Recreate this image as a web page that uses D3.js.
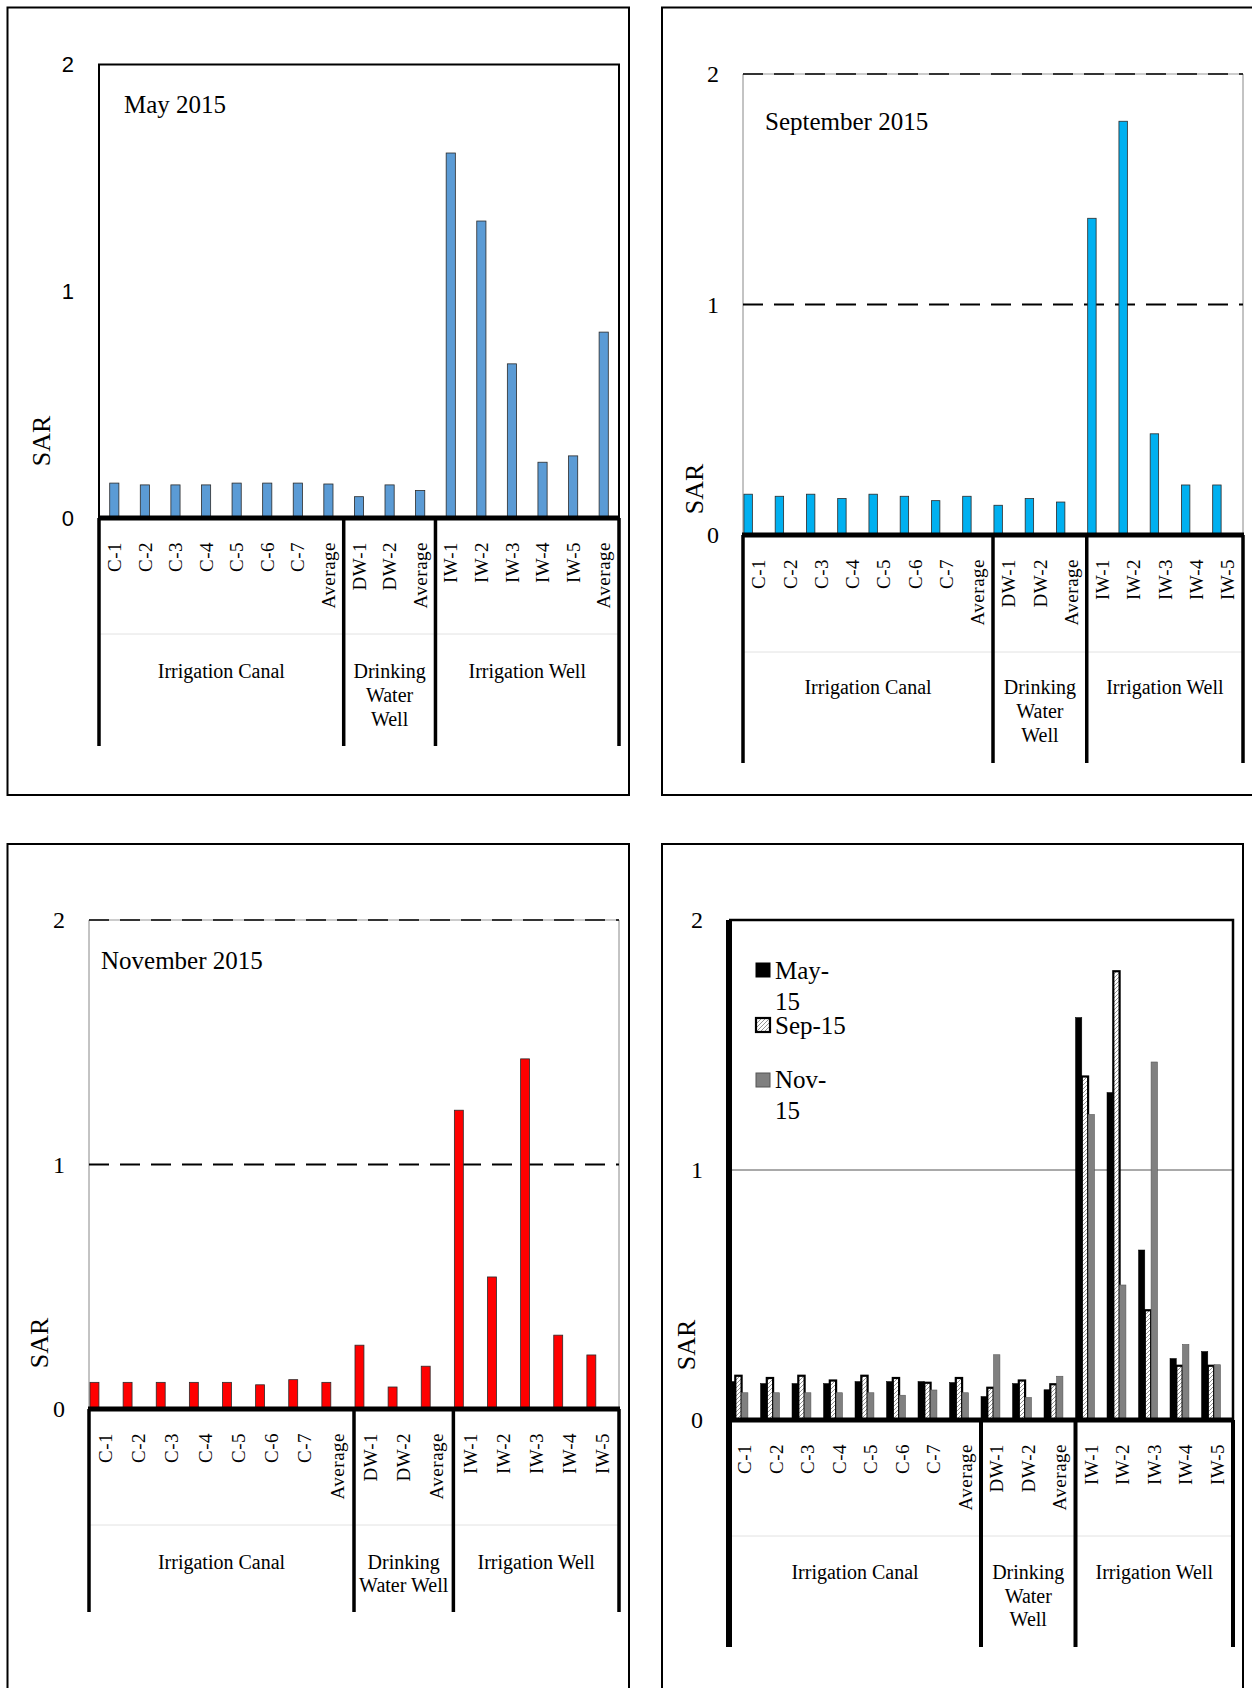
<!DOCTYPE html>
<html>
<head>
<meta charset="utf-8">
<script src="https://cdn.jsdelivr.net/npm/d3@7"></script>
<style>
  body { margin: 0; background: #fff; }
  svg { display: block; }
</style>
</head>
<body>
<svg id="chart" width="1252" height="1688"></svg>
<script>
// Sampling sites
const canalSites = ["C-1", "C-2", "C-3", "C-4", "C-5", "C-6", "C-7", "Average"];
const drinkingSites = ["DW-1", "DW-2", "Average"];
const wellSites = ["IW-1", "IW-2", "IW-3", "IW-4", "IW-5"];
const maySites = canalSites.concat(drinkingSites, wellSites, ["Average"]);
const sites = canalSites.concat(drinkingSites, wellSites);

const groupNames = ["Irrigation Canal", "Drinking Water Well", "Irrigation Well"];
const yTicks = [0, 1, 2];
const seriesNames = ["May-15", "Sep-15", "Nov-15"];

// SAR values
const sarMay = [0.154, 0.146, 0.146, 0.146, 0.154, 0.154, 0.154, 0.150,
  0.094, 0.146, 0.121, 1.61, 1.31, 0.68, 0.246, 0.274, 0.82];
const sarSep = [0.177, 0.168, 0.177, 0.158, 0.177, 0.168, 0.149, 0.168,
  0.129, 0.158, 0.143, 1.374, 1.795, 0.439, 0.217, 0.217];
const sarNov = [0.109, 0.109, 0.109, 0.109, 0.109, 0.099, 0.120, 0.109,
  0.261, 0.090, 0.175, 1.222, 0.540, 1.432, 0.302, 0.221];

const serif = "'Liberation Serif', 'Times New Roman', serif";
const sans = "'Liberation Sans', Arial, sans-serif";

const svg = d3.select("#chart");

// hatch used for the Sep-15 bars in the combined chart
const defs = svg.append("defs");
const pat = defs.append("pattern")
  .attr("id", "sepHatch")
  .attr("patternUnits", "userSpaceOnUse")
  .attr("width", 4)
  .attr("height", 4);
pat.append("rect").attr("width", 4).attr("height", 4).attr("fill", "#fff");
pat.append("path").attr("d", "M0,4 L4,0").attr("stroke", "#888").attr("stroke-width", 0.9);

function drawPanel(p) {
  const g = svg.append("g");

  // outer frame
  g.append("rect")
    .attr("x", p.frame[0])
    .attr("y", p.frame[1])
    .attr("width", p.frame[2] - p.frame[0])
    .attr("height", p.frame[3] - p.frame[1])
    .attr("fill", "none")
    .attr("stroke", "#000")
    .attr("stroke-width", 2);

  const x = d3.scaleBand().domain(d3.range(p.sites.length)).range([p.left, p.right]);
  const y = d3.scaleLinear().domain([0, 2]).range([p.zero, p.top]);
  const bw = x.bandwidth();

  // plot area border / gridlines
  if (p.style === "box") {
    g.append("path")
      .attr("d", `M${p.left},${p.zero}V${p.top}H${p.right}V${p.zero}`)
      .attr("fill", "none")
      .attr("stroke", "#000")
      .attr("stroke-width", 2);
  } else if (p.style === "dashed") {
    g.append("line")
      .attr("x1", p.left).attr("x2", p.left)
      .attr("y1", p.top).attr("y2", p.zero)
      .attr("stroke", "#888").attr("stroke-width", 1);
    g.append("line")
      .attr("x1", p.right).attr("x2", p.right)
      .attr("y1", p.top).attr("y2", p.zero)
      .attr("stroke", "#888").attr("stroke-width", 1);
    g.append("line")
      .attr("x1", p.left).attr("x2", p.right)
      .attr("y1", y(2)).attr("y2", y(2))
      .attr("stroke", "#999").attr("stroke-width", 1);
    [1, 2].forEach((v) => {
      g.append("line")
        .attr("x1", p.left).attr("x2", p.right)
        .attr("y1", y(v)).attr("y2", y(v))
        .attr("stroke", "#000")
        .attr("stroke-width", v === 1 ? 2 : 1.5)
        .attr("stroke-dasharray", "20,11");
    });
  } else {
    g.append("line")
      .attr("x1", p.left).attr("x2", p.right)
      .attr("y1", y(1)).attr("y2", y(1))
      .attr("stroke", "#555").attr("stroke-width", 1);
    g.append("path")
      .attr("d", `M${p.left},${p.top}H${p.right}V${p.zero}`)
      .attr("fill", "none")
      .attr("stroke", "#000")
      .attr("stroke-width", 2.5);
  }

  // bars
  p.series.forEach((s, k) => {
    let bx, w;
    if (p.layout === "center") {
      w = bw * 0.3;
      bx = (i) => x(i) + (bw - w) / 2;
    } else if (p.layout === "left") {
      w = bw * 0.27;
      bx = (i) => x(i) + bw * 0.03;
    } else {
      w = bw * 0.2;
      bx = (i) => x(i) + k * w;
    }
    g.append("g")
      .selectAll("rect")
      .data(s.values)
      .enter()
      .append("rect")
      .attr("x", (d, i) => bx(i))
      .attr("y", (d) => y(d))
      .attr("width", w)
      .attr("height", (d) => y(0) - y(d))
      .attr("fill", s.fill)
      .attr("stroke", s.stroke)
      .attr("stroke-width", s.strokeWidth);
  });

  // faint separator between site labels and group labels
  g.append("line")
    .attr("x1", p.left).attr("x2", p.right)
    .attr("y1", p.sepY).attr("y2", p.sepY)
    .attr("stroke", "#e2e2e2").attr("stroke-width", 1);

  // group dividers below the axis
  let start = 0;
  const bounds = [0];
  p.groupSizes.forEach((n) => {
    start += n;
    bounds.push(start);
  });
  bounds.forEach((b, j) => {
    const bxPos = b === p.sites.length ? p.right : x(b);
    const leftThick = p.style === "combined" && j === 0;
    g.append("line")
      .attr("x1", bxPos).attr("x2", bxPos)
      .attr("y1", leftThick ? p.top : p.zero)
      .attr("y2", p.catBottom)
      .attr("stroke", "#000")
      .attr("stroke-width", leftThick ? 6 : p.divWidth);
  });

  // zero line
  g.append("line")
    .attr("x1", p.left - 1).attr("x2", p.right + 1)
    .attr("y1", p.zero).attr("y2", p.zero)
    .attr("stroke", "#000").attr("stroke-width", 5);

  // y axis labels
  const yAxis = g.append("g")
    .attr("transform", `translate(${p.left},0)`)
    .call(d3.axisLeft(y).tickValues(yTicks).tickFormat(d3.format("d")).tickSize(0).tickPadding(p.yPad));
  yAxis.select(".domain").remove();
  yAxis.selectAll("text")
    .attr("font-family", p.yFont)
    .attr("font-size", p.yFontSize)
    .attr("fill", "#000");

  // site labels
  const xAxis = g.append("g")
    .attr("transform", `translate(0,${p.zero})`)
    .call(d3.axisBottom(x).tickFormat((i) => p.sites[i]).tickSize(0));
  xAxis.select(".domain").remove();
  xAxis.selectAll("text")
    .attr("x", 0)
    .attr("y", 0)
    .attr("dy", "0.35em")
    .attr("transform", "translate(0,24) rotate(-90)")
    .attr("text-anchor", "end")
    .attr("font-family", serif)
    .attr("font-size", 19)
    .attr("letter-spacing", 0.5)
    .attr("fill", "#000");

  // group labels
  p.groupLines.forEach((lines, j) => {
    const x0 = x(bounds[j]);
    const x1 = bounds[j + 1] === p.sites.length ? p.right : x(bounds[j + 1]);
    const t = g.append("text")
      .attr("text-anchor", "middle")
      .attr("font-family", serif)
      .attr("font-size", 20)
      .attr("fill", "#000");
    lines.forEach((line, li) => {
      t.append("tspan")
        .attr("x", (x0 + x1) / 2)
        .attr("y", p.groupY + li * p.groupLh)
        .text(line);
    });
  });

  // axis title
  g.append("text")
    .attr("transform", `translate(${p.sar[0]},${p.sar[1]}) rotate(-90)`)
    .attr("text-anchor", "middle")
    .attr("dy", "0.35em")
    .attr("font-family", serif)
    .attr("font-size", 26)
    .text("SAR");

  if (p.title) {
    g.append("text")
      .attr("x", p.title[1])
      .attr("y", p.title[2])
      .attr("font-family", serif)
      .attr("font-size", 25)
      .text(p.title[0]);
  }

  if (p.legend) {
    p.legend.forEach((item) => {
      g.append("rect")
        .attr("x", 756)
        .attr("y", item.boxY)
        .attr("width", 14)
        .attr("height", 14)
        .attr("fill", item.fill)
        .attr("stroke", item.stroke)
        .attr("stroke-width", item.strokeWidth);
      const t = g.append("text")
        .attr("font-family", serif)
        .attr("font-size", 25);
      item.lines.forEach((line, li) => {
        t.append("tspan")
          .attr("x", 775)
          .attr("y", item.textY + li * 31)
          .text(line);
      });
    });
  }
}

const darkEdge = "#2b2b2b";

drawPanel({
  frame: [7.5, 7.5, 629, 795],
  left: 99, right: 619, top: 64.6, zero: 518, catBottom: 746, sepY: 634,
  style: "box", layout: "center", divWidth: 3.5,
  sites: maySites,
  groupSizes: [canalSites.length, drinkingSites.length, wellSites.length + 1],
  series: [{ values: sarMay, fill: "#5b9bd5", stroke: darkEdge, strokeWidth: 0.8 }],
  yFont: sans, yFontSize: 22, yPad: 25,
  groupLines: [[groupNames[0]], ["Drinking", "Water", "Well"], [groupNames[2]]],
  groupY: 678, groupLh: 24,
  sar: [41, 441],
  title: ["May 2015", 124, 113]
});

drawPanel({
  frame: [662, 7.5, 1262, 795],
  left: 743, right: 1243, top: 74, zero: 535, catBottom: 763, sepY: 652,
  style: "dashed", layout: "left", divWidth: 3.5,
  sites: sites,
  groupSizes: [canalSites.length, drinkingSites.length, wellSites.length],
  series: [{ values: sarSep, fill: "#00b0f0", stroke: darkEdge, strokeWidth: 0.8 }],
  yFont: serif, yFontSize: 24, yPad: 24,
  groupLines: [[groupNames[0]], ["Drinking", "Water", "Well"], [groupNames[2]]],
  groupY: 694, groupLh: 24,
  sar: [694, 489],
  title: ["September 2015", 765, 130]
});

drawPanel({
  frame: [7.5, 844, 629, 1700],
  left: 89, right: 619, top: 920, zero: 1409, catBottom: 1612, sepY: 1525,
  style: "dashed", layout: "left", divWidth: 3.5,
  sites: sites,
  groupSizes: [canalSites.length, drinkingSites.length, wellSites.length],
  series: [{ values: sarNov, fill: "#ff0000", stroke: darkEdge, strokeWidth: 0.8 }],
  yFont: serif, yFontSize: 24, yPad: 24,
  groupLines: [[groupNames[0]], ["Drinking", "Water Well"], [groupNames[2]]],
  groupY: 1569, groupLh: 23,
  sar: [39, 1343],
  title: ["November 2015", 101, 969]
});

drawPanel({
  frame: [662, 844, 1243, 1700],
  left: 729, right: 1233, top: 920, zero: 1420, catBottom: 1647, sepY: 1536,
  style: "combined", layout: "cluster", divWidth: 4,
  sites: sites,
  groupSizes: [canalSites.length, drinkingSites.length, wellSites.length],
  series: [
    { values: sarMay.slice(0, sites.length), fill: "#000", stroke: "#000", strokeWidth: 0.5 },
    { values: sarSep, fill: "url(#sepHatch)", stroke: "#000", strokeWidth: 2.2 },
    { values: sarNov, fill: "#808080", stroke: "#555", strokeWidth: 0.6 }
  ],
  yFont: serif, yFontSize: 24, yPad: 26,
  groupLines: [[groupNames[0]], ["Drinking", "Water", "Well"], [groupNames[2]]],
  groupY: 1579, groupLh: 23.5,
  sar: [686, 1345],
  legend: [
    { lines: ["May-", "15"], boxY: 963, textY: 979, fill: "#000", stroke: "#000", strokeWidth: 1 },
    { lines: [seriesNames[1]], boxY: 1018, textY: 1034, fill: "url(#sepHatch)", stroke: "#000", strokeWidth: 2.2 },
    { lines: ["Nov-", "15"], boxY: 1073, textY: 1088, fill: "#808080", stroke: "#555", strokeWidth: 1 }
  ]
});
</script>
</body>
</html>
